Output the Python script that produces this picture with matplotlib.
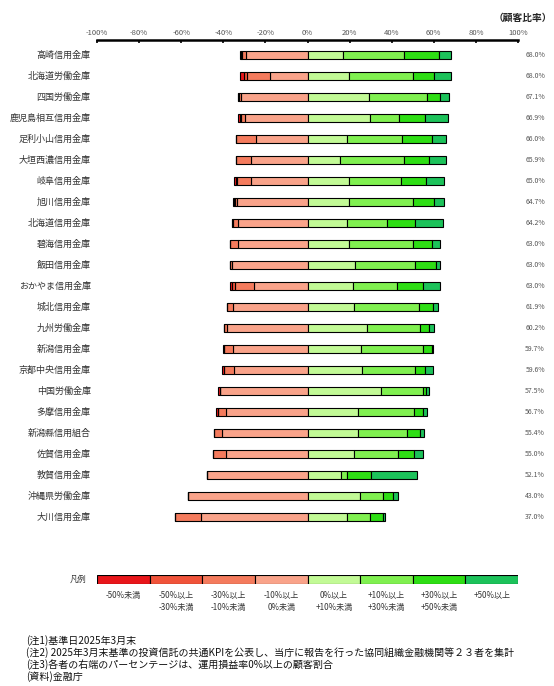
import matplotlib
matplotlib.use("Agg")
import matplotlib.pyplot as plt
import numpy as np

plt.rcParams['font.family'] = ['Noto Sans CJK JP', 'DejaVu Sans']

names = ['高崎信用金庫', '北海道労働金庫', '四国労働金庫', '鹿児島相互信用金庫', '足利小山信用金庫',
         '大垣西濃信用金庫', '岐阜信用金庫', '旭川信用金庫', '北海道信用金庫', '碧海信用金庫',
         '飯田信用金庫', 'おかやま信用金庫', '城北信用金庫', '九州労働金庫', '新潟信用金庫',
         '京都中央信用金庫', '中国労働金庫', '多摩信用金庫', '新潟縣信用組合', '佐賀信用金庫',
         '敦賀信用金庫', '沖縄県労働金庫', '大川信用金庫']
pct_labels = ['68.0%', '68.0%', '67.1%', '66.9%', '66.0%', '65.9%', '65.0%', '64.7%', '64.2%',
              '63.0%', '63.0%', '63.0%', '61.9%', '60.2%', '59.7%', '59.6%', '57.5%', '56.7%',
              '55.4%', '55.0%', '52.1%', '43.0%', '37.0%']

# customer share per return bucket (%)
lt_m50 = [0.5, 1.7, 0.0, 0.8, 0.0, 0.0, 1.0, 0.4, 0.0, 0.0, 0.0, 1.0, 0.0, 0.0, 0.5, 0.6, 0.8, 0.6, 0.0, 0.0, 0.0, 0.0, 0.0]
m50_m30 = [0.6, 1.6, 0.3, 0.6, 0.0, 0.0, 0.5, 0.4, 0.6, 0.0, 0.0, 1.5, 0.0, 0.3, 0.0, 0.0, 0.0, 0.0, 0.0, 0.0, 0.0, 0.0, 0.0]
m30_m10 = [1.7, 10.8, 0.8, 2.2, 9.3, 7.3, 6.8, 0.9, 2.4, 4.1, 0.9, 8.9, 2.8, 1.2, 4.4, 4.7, 0.0, 3.8, 3.8, 6.2, 0.0, 0.0, 12.2]
m10_0 = [29.2, 17.9, 31.8, 29.5, 24.7, 26.8, 26.7, 33.6, 32.8, 32.9, 36.1, 25.6, 35.3, 38.3, 35.4, 35.1, 41.7, 38.9, 40.8, 38.8, 47.9, 57.0, 50.8]
p0_10 = [17.1, 19.9, 29.4, 29.9, 19.0, 15.3, 19.9, 19.9, 18.8, 19.9, 22.8, 21.4, 22.3, 28.5, 25.6, 26.1, 34.8, 23.9, 24.1, 22.2, 16.0, 25.0, 19.0]
p10_30 = [28.9, 30.1, 27.5, 13.8, 26.1, 30.4, 24.7, 30.1, 19.0, 30.1, 28.1, 21.3, 30.7, 25.0, 29.1, 25.0, 19.9, 26.6, 23.1, 20.7, 2.7, 10.9, 10.9]
p30_50 = [16.7, 10.3, 6.2, 12.0, 13.9, 12.2, 11.7, 10.0, 13.3, 9.0, 10.0, 12.0, 6.8, 4.4, 4.3, 4.9, 1.6, 4.2, 6.3, 7.8, 11.5, 4.9, 6.2]
p50 = [5.3, 7.7, 4.0, 11.2, 7.0, 8.0, 8.7, 4.7, 13.1, 4.0, 2.1, 8.3, 2.1, 2.3, 0.7, 3.6, 1.2, 2.0, 1.9, 4.3, 21.9, 2.2, 0.9]

bucket_labels = ['-50%未満', '-50%以上\n-30%未満', '-30%以上\n-10%未満', '-10%以上\n0%未満',
                 '0%以上\n+10%未満', '+10%以上\n+30%未満', '+30%以上\n+50%未満', '+50%以上']
colors = ['#e8161a', '#f0533a', '#f47b5d', '#f9a38a', '#c2fa96', '#80f050', '#2ede14', '#1cc25a']

W, H = 554, 686
fig = plt.figure(figsize=(W / 100, H / 100), dpi=100)

# main chart
ax = fig.add_axes([97 / W, (H - 530) / H, 421 / W, 490 / H])
y = np.arange(len(names))

neg = [m10_0, m30_m10, m50_m30, lt_m50]
neg_cols = [colors[3], colors[2], colors[1], colors[0]]
left = np.zeros(len(names))
for vals, c in zip(neg, neg_cols):
    v = np.array(vals)
    ax.barh(y, -v, left=left, height=0.4, color=c, edgecolor='black', linewidth=0.8)
    left = left - v

pos = [p0_10, p10_30, p30_50, p50]
left = np.zeros(len(names))
for vals, c in zip(pos, colors[4:]):
    v = np.array(vals)
    ax.barh(y, v, left=left, height=0.4, color=c, edgecolor='black', linewidth=0.8)
    left = left + v

ax.set_xlim(-100, 100)
ax.set_ylim(22.62, -0.714)
ax.xaxis.tick_top()
ax.set_xticks(np.arange(-100, 101, 20))
ax.set_xticklabels([f'{t}%' for t in range(-100, 101, 20)], fontsize=5.5, color='#555555')
ax.tick_params(axis='x', direction='in', length=2.5, width=1.2, pad=2)
ax.set_yticks([])
for s in ['bottom', 'left', 'right']:
    ax.spines[s].set_visible(False)
ax.spines['top'].set_linewidth(1.8)

mixed = matplotlib.transforms.blended_transform_factory(fig.transFigure, ax.transData)
for i, (n, p) in enumerate(zip(names, pct_labels)):
    ax.text(-103, i, n, ha='right', va='center', fontsize=6.5, color='#333333')
    ax.text(545 / W, i, p, transform=mixed, ha='right', va='center', fontsize=5, color='#555555')

fig.text(552 / W, 1 - 18 / H, '（顧客比率）', ha='right', va='center', fontsize=7, fontweight='bold', color='#222222')

# legend strip
lax = fig.add_axes([97 / W, (H - 584) / H, 421 / W, 9 / H])
lx = np.arange(-100, 100, 25)
lax.barh([0] * 8, [25] * 8, left=lx, height=1, color=colors, edgecolor='black', linewidth=0.8)
lax.set_xlim(-100, 100)
lax.set_ylim(-0.5, 0.5)
lax.axis('off')
fig.text(78 / W, 1 - 579 / H, '凡例', ha='center', va='center', fontsize=6, color='#333333')
for x0, lab in zip(lx, bucket_labels):
    xc = 97 + (x0 + 12.5 + 100) * 421 / 200
    fig.text(xc / W, 1 - 591 / H, lab, ha='center', va='top', fontsize=5.8,
             color='#333333', linespacing=1.4)

notes = ['(注1)基準日2025年3月末',
         '(注2) 2025年3月末基準の投資信託の共通KPIを公表し、当庁に報告を行った協同組織金融機関等２３者を集計',
         '(注3)各者の右端のパーセンテージは、運用損益率0%以上の顧客割合',
         '(資料)金融庁']
for k, t in enumerate(notes):
    fig.text(26 / W, 1 - (641 + 12 * k) / H, t, ha='left', va='center', fontsize=7.2, color='#111111')

fig.savefig('out.png', dpi=100)
